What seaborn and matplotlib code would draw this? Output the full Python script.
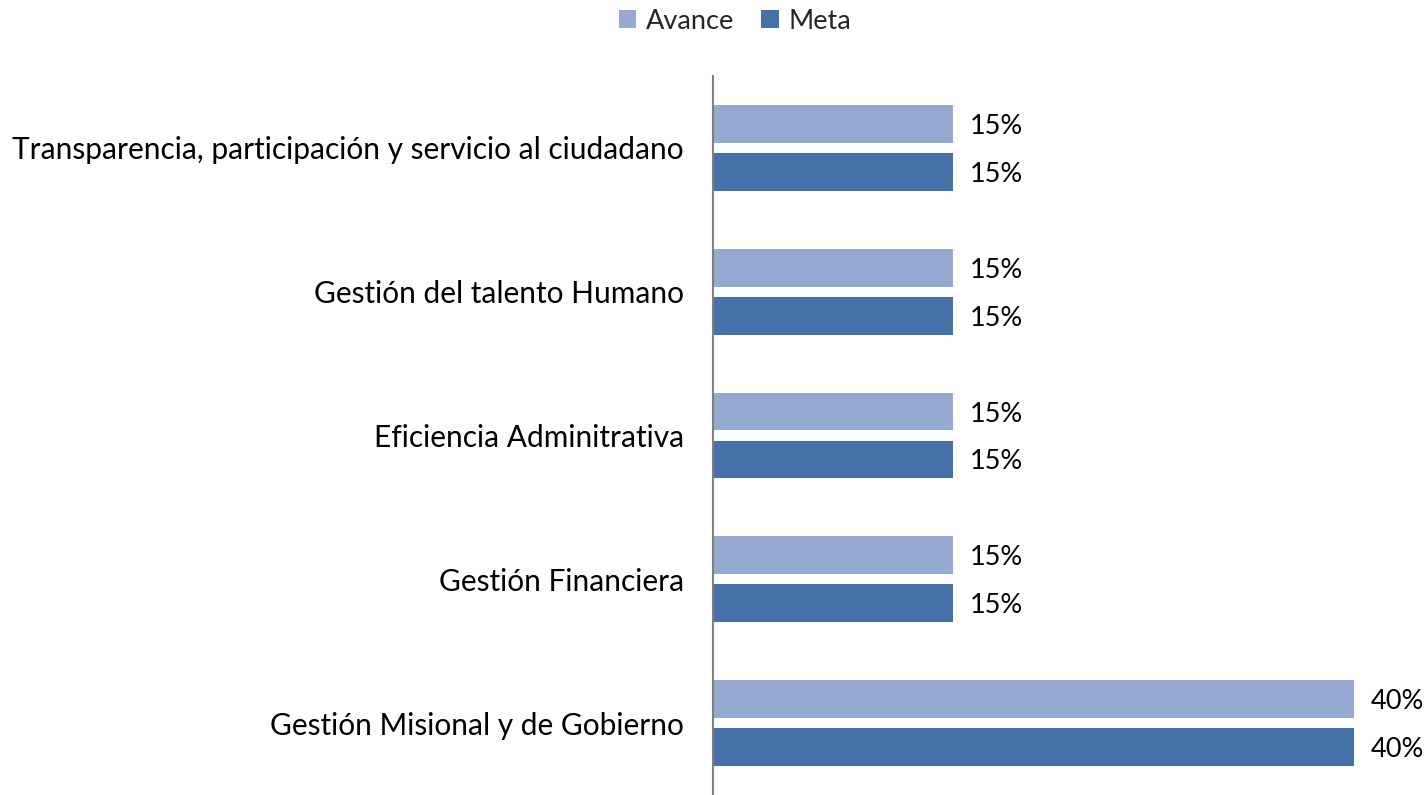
import matplotlib
matplotlib.use("Agg")
import matplotlib.pyplot as plt
import seaborn as sns
import pandas as pd

categorias = [
    "Transparencia, participación y servicio al ciudadano",
    "Gestión del talento Humano",
    "Eficiencia Adminitrativa",
    "Gestión Financiera",
    "Gestión Misional y de Gobierno",
]
avance = [15, 15, 15, 15, 40]
meta = [15, 15, 15, 15, 40]
series = ["Avance", "Meta"]
colores = ["#95A9D2", "#4472A8"]

df = pd.DataFrame({
    "categoria": categorias * 2,
    "valor": avance + meta,
    "serie": [series[0]] * len(categorias) + [series[1]] * len(categorias),
})

sns.set_theme(style="white")
plt.rcParams["font.family"] = ["Lato", "DejaVu Sans"]

fig = plt.figure(figsize=(14.26, 7.95), dpi=100)
ax = fig.add_axes([713 / 1426, 0, (1426 - 713) / 1426, (795 - 76) / 795])

sns.barplot(
    data=df, x="valor", y="categoria", hue="serie",
    order=categorias, hue_order=series, palette=colores,
    orient="h", width=0.667, gap=0.21, ax=ax, saturation=1,
    edgecolor="none",
)

ax.set_xlim(0, 44.5)
ax.set_ylim(len(categorias) - 0.5, -0.5)
ax.set_xlabel("")
ax.set_ylabel("")
ax.set_xticks([])
ax.tick_params(axis="y", length=0, pad=21, labelsize=21.5, labelcolor="#000000")
for side in ["top", "right", "bottom"]:
    ax.spines[side].set_visible(False)
ax.spines["left"].set_color("#808080")
ax.spines["left"].set_linewidth(1.5)

for cont in ax.containers:
    texts = ax.bar_label(cont, labels=[f"{v:.0f}%" for v in cont.datavalues],
                         padding=12, fontsize=19.5, color="#000000")
    for t in texts:
        t.set_va("center_baseline")

leg = ax.legend(
    loc="upper center", bbox_to_anchor=(735 / 1426, 1 - 6 / 795), bbox_transform=fig.transFigure,
    ncol=2, frameon=False, fontsize=19.5, handlelength=0.65, handleheight=0.65,
    handletextpad=0.35, columnspacing=1.0, borderaxespad=0.0, borderpad=0.1,
)

fig.savefig("out.png", dpi=100)
